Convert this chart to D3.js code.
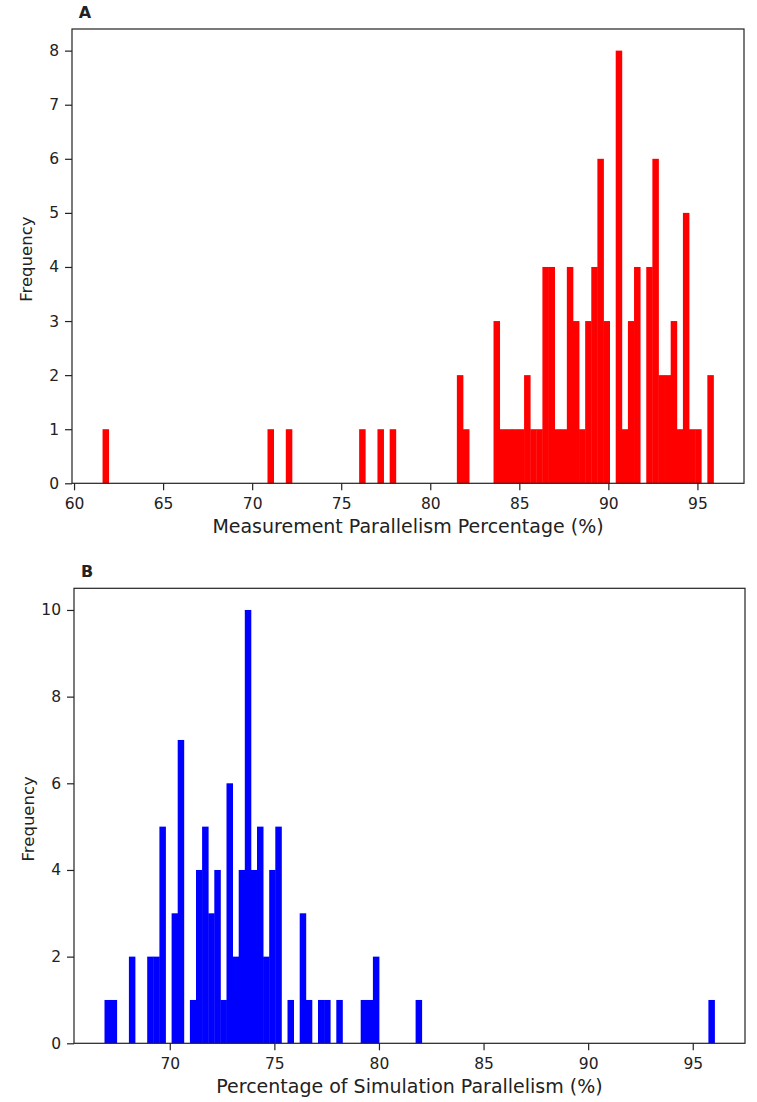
<!DOCTYPE html>
<html>
<head>
<meta charset="utf-8">
<script src="https://cdn.jsdelivr.net/npm/d3@7"></script>
<style>
  body { margin: 0; background: #fff; }
  text { font-family: "DejaVu Sans", sans-serif; fill: #222; }
</style>
</head>
<body>
<div class="canvas"></div>
<script>
// histogram counts, 100 equal bins between the min and max of each sample
const countsA = [
  1, 0, 0, 0, 0, 0, 0, 0, 0, 0,
  0, 0, 0, 0, 0, 0, 0, 0, 0, 0,
  0, 0, 0, 0, 0, 0, 0, 1, 0, 0,
  1, 0, 0, 0, 0, 0, 0, 0, 0, 0,
  0, 0, 1, 0, 0, 1, 0, 1, 0, 0,
  0, 0, 0, 0, 0, 0, 0, 0, 2, 1,
  0, 0, 0, 0, 3, 1, 1, 1, 1, 2,
  1, 1, 4, 4, 1, 1, 4, 3, 1, 3,
  4, 6, 3, 0, 8, 1, 3, 4, 0, 4,
  6, 2, 2, 3, 1, 5, 1, 1, 0, 2
]
const rangeA = [61.6, 95.9]
const ticksXA = [60, 65, 70, 75, 80, 85, 90, 95]
const ticksYA = [0, 1, 2, 3, 4, 5, 6, 7, 8]

const countsB = [
  1, 1, 0, 0, 2, 0, 0, 2, 2, 5,
  0, 3, 7, 0, 1, 4, 5, 3, 4, 1,
  6, 2, 4, 10, 4, 5, 2, 4, 5, 0,
  1, 0, 3, 1, 0, 1, 1, 0, 1, 0,
  0, 0, 1, 1, 2, 0, 0, 0, 0, 0,
  0, 1, 0, 0, 0, 0, 0, 0, 0, 0,
  0, 0, 0, 0, 0, 0, 0, 0, 0, 0,
  0, 0, 0, 0, 0, 0, 0, 0, 0, 0,
  0, 0, 0, 0, 0, 0, 0, 0, 0, 0,
  0, 0, 0, 0, 0, 0, 0, 0, 0, 1
]
const rangeB = [66.88, 96.04]
const ticksXB = [70, 75, 80, 85, 90, 95]
const ticksYB = [0, 2, 4, 6, 8, 10]

const svg = d3.select('.canvas').append('svg')
  .attr('width', 757)
  .attr('height', 1102)

function panel(opts) {
  const { counts, range, ticksX, ticksY, box, color, label, xLabel } = opts
  const n = counts.length
  const step = (range[1] - range[0]) / n
  const pad = (range[1] - range[0]) * 0.05
  const bins = counts.map((c, i) => ({ x0: range[0] + i * step, x1: range[0] + (i + 1) * step, c }))

  const x = d3.scaleLinear()
    .domain([range[0] - pad, range[1] + pad])
    .range([box.left, box.right])
  const yMax = d3.max(counts) * 1.05
  const y = d3.scaleLinear()
    .domain([0, yMax])
    .range([box.bottom, box.top])

  const g = svg.append('g')

  g.selectAll('rect.bar')
    .data(bins.filter(d => d.c > 0))
    .enter().append('rect')
    .attr('class', 'bar')
    .attr('x', d => x(d.x0))
    .attr('width', d => x(d.x1) - x(d.x0) + 0.4)
    .attr('y', d => y(d.c))
    .attr('height', d => y(0) - y(d.c))
    .attr('fill', color)

  // frame
  g.append('rect')
    .attr('x', box.left)
    .attr('y', box.top)
    .attr('width', box.right - box.left)
    .attr('height', box.bottom - box.top)
    .attr('fill', 'none')
    .attr('stroke', '#222')
    .attr('stroke-width', 1.2)

  const xAxis = d3.axisBottom(x).tickValues(ticksX).tickSize(7).tickPadding(8)
  const yAxis = d3.axisLeft(y).tickValues(ticksY).tickSize(7).tickPadding(6)

  const xg = g.append('g')
    .attr('transform', `translate(0,${box.bottom})`)
    .call(xAxis)
  const yg = g.append('g')
    .attr('transform', `translate(${box.left},0)`)
    .call(yAxis)

  ;[xg, yg].forEach(a => {
    a.select('.domain').remove()
    a.selectAll('line').attr('stroke', '#222').attr('stroke-width', 1.2)
    a.selectAll('text').attr('font-size', 15.5).attr('fill', '#222')
      .style('font-family', '"DejaVu Sans", sans-serif')
  })

  g.append('text')
    .attr('x', (box.left + box.right) / 2)
    .attr('y', box.bottom + 50)
    .attr('text-anchor', 'middle')
    .attr('font-size', 19)
    .text(xLabel)

  g.append('text')
    .attr('transform', `translate(${box.left - 40},${(box.top + box.bottom) / 2 + 3}) rotate(-90)`)
    .attr('text-anchor', 'middle')
    .attr('font-size', 16.5)
    .text('Frequency')

  g.append('text')
    .attr('x', box.left + 13)
    .attr('y', box.top - 11)
    .attr('text-anchor', 'middle')
    .attr('font-size', 16)
    .attr('font-weight', 'bold')
    .attr('fill', '#000')
    .text(label)
}

panel({
  counts: countsA, range: rangeA, ticksX: ticksXA, ticksY: ticksYA,
  box: { left: 72, right: 744, top: 29, bottom: 483.3 },
  color: '#ff0000', label: 'A',
  xLabel: 'Measurement Parallelism Percentage (%)'
})

panel({
  counts: countsB, range: rangeB, ticksX: ticksXB, ticksY: ticksYB,
  box: { left: 74, right: 745, top: 588.3, bottom: 1043.3 },
  color: '#0000ff', label: 'B',
  xLabel: 'Percentage of Simulation Parallelism (%)'
})
</script>
</body>
</html>
